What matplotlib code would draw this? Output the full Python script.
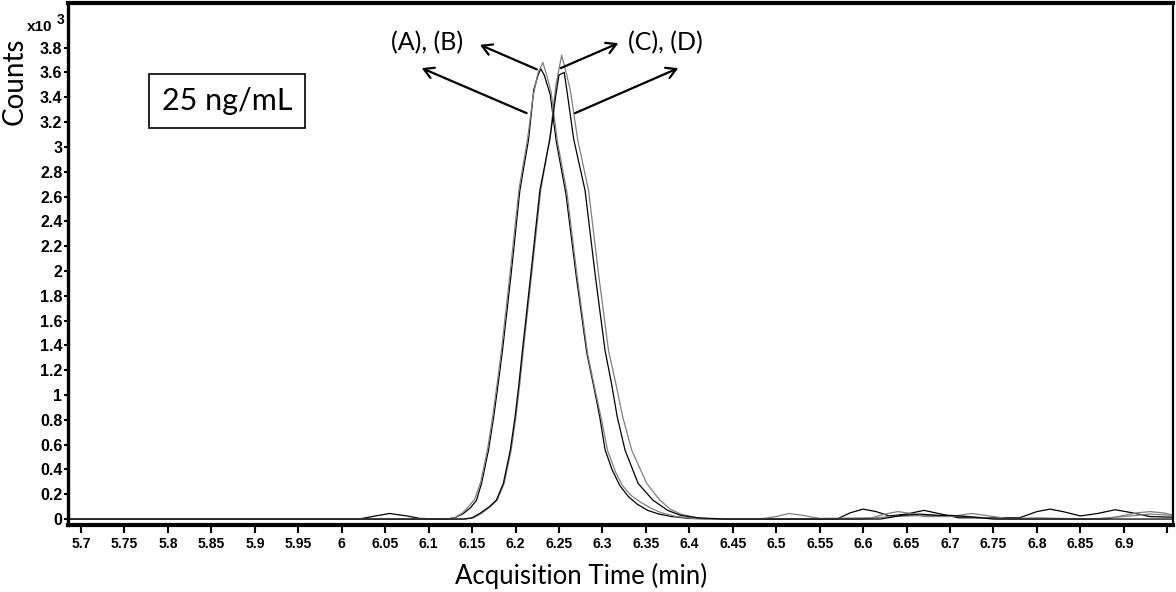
import matplotlib
matplotlib.use("Agg")
import matplotlib.pyplot as plt

# ---- data (counts in thousands) ----
t_A = [5.685, 6.02, 6.035, 6.055, 6.075, 6.09, 6.12, 6.13, 6.14, 6.148, 6.155, 6.161, 6.169,
       6.175, 6.180, 6.185, 6.195, 6.205, 6.215, 6.221, 6.226, 6.229, 6.233, 6.240, 6.247,
       6.258, 6.270, 6.282, 6.290, 6.297, 6.303, 6.311, 6.320, 6.330, 6.340, 6.352, 6.365,
       6.38, 6.40, 6.43, 6.57, 6.585, 6.60, 6.615, 6.63, 6.65, 6.67, 6.69, 6.71, 6.78,
       6.80, 6.815, 6.83, 6.85, 6.87, 6.89, 6.91, 6.93, 6.955]
v_A = [0, 0, 0.02, 0.045, 0.025, 0.005, 0, 0.01, 0.045, 0.09, 0.15, 0.29, 0.56,
       0.83, 1.09, 1.36, 1.98, 2.65, 3.06, 3.46, 3.58, 3.63, 3.58, 3.42, 3.04,
       2.62, 1.95, 1.34, 1.07, 0.82, 0.56, 0.40, 0.27, 0.18, 0.12, 0.07, 0.04,
       0.02, 0.005, 0, 0, 0.05, 0.08, 0.06, 0.025, 0.04, 0.07, 0.04, 0.01, 0.01,
       0.06, 0.08, 0.06, 0.025, 0.045, 0.075, 0.05, 0.02, 0.015]

t_B = [5.685, 6.12, 6.13, 6.139, 6.146, 6.153, 6.160, 6.168, 6.174, 6.179, 6.184, 6.194,
       6.204, 6.214, 6.220, 6.226, 6.2315, 6.235, 6.241, 6.248, 6.259, 6.271, 6.283, 6.291,
       6.299, 6.306, 6.315, 6.323, 6.333, 6.343, 6.355, 6.368, 6.385, 6.405, 6.44, 6.48,
       6.50, 6.515, 6.53, 6.55, 6.61, 6.625, 6.64, 6.655, 6.67, 6.70, 6.725, 6.75, 6.77,
       6.88, 6.90, 6.915, 6.93, 6.945, 6.955]
v_B = [0, 0, 0.01, 0.05, 0.10, 0.16, 0.30, 0.57, 0.84, 1.10, 1.37, 2.0,
       2.66, 3.07, 3.40, 3.60, 3.68, 3.60, 3.44, 3.05, 2.64, 1.95, 1.33, 1.06,
       0.80, 0.55, 0.38, 0.27, 0.19, 0.14, 0.09, 0.05, 0.02, 0.005, 0, 0,
       0.02, 0.045, 0.03, 0.005, 0.01, 0.04, 0.06, 0.045, 0.02, 0.02, 0.045, 0.02, 0.0,
       0.0, 0.03, 0.05, 0.06, 0.05, 0.035]

t_C = [5.685, 6.143, 6.152, 6.161, 6.171, 6.179, 6.187, 6.195, 6.2005, 6.205, 6.209,
       6.219, 6.229, 6.240, 6.2465, 6.2531, 6.2575, 6.263, 6.2715, 6.284, 6.296, 6.307,
       6.3155, 6.3233, 6.3337, 6.3509, 6.366, 6.378, 6.39, 6.405, 6.42, 6.60, 6.63, 6.68,
       6.72, 6.76, 6.80, 6.86, 6.90, 6.93, 6.955]
v_C = [0, 0, 0.01, 0.046, 0.10, 0.153, 0.288, 0.556, 0.825, 1.094, 1.363,
       2.0, 2.65, 3.10, 3.50, 3.74, 3.62, 3.46, 3.06, 2.65, 1.95, 1.36,
       1.09, 0.825, 0.556, 0.288, 0.153, 0.08, 0.04, 0.015, 0, 0, 0.02, 0.03,
       0.02, 0.0, 0.01, 0.0, 0.02, 0.04, 0.03]

t_D = [5.685, 6.14, 6.15, 6.159, 6.170, 6.178, 6.186, 6.194, 6.1995, 6.204, 6.208,
       6.218, 6.228, 6.2395, 6.246, 6.250, 6.256, 6.259, 6.267, 6.280, 6.292, 6.303,
       6.3105, 6.317, 6.326, 6.341, 6.358, 6.375, 6.39, 6.41, 6.44, 6.62, 6.645, 6.665,
       6.685, 6.70, 6.72, 6.75, 6.955]
v_D = [0, 0, 0.01, 0.046, 0.10, 0.153, 0.288, 0.556, 0.825, 1.094, 1.363,
       2.0, 2.65, 3.06, 3.40, 3.58, 3.60, 3.46, 3.06, 2.65, 1.95, 1.36,
       1.09, 0.825, 0.556, 0.288, 0.153, 0.07, 0.03, 0.01, 0, 0, 0.03, 0.04,
       0.03, 0.03, 0.02, 0.0, 0.0]

x_ticks = [5.7, 5.75, 5.8, 5.85, 5.9, 5.95, 6.0, 6.05, 6.1, 6.15, 6.2, 6.25, 6.3, 6.35,
           6.4, 6.45, 6.5, 6.55, 6.6, 6.65, 6.7, 6.75, 6.8, 6.85, 6.9, 6.95]
x_labels = ["5.7", "5.75", "5.8", "5.85", "5.9", "5.95", "6", "6.05", "6.1", "6.15", "6.2",
            "6.25", "6.3", "6.35", "6.4", "6.45", "6.5", "6.55", "6.6", "6.65", "6.7",
            "6.75", "6.8", "6.85", "6.9", ""]
y_ticks = [0, 0.2, 0.4, 0.6, 0.8, 1, 1.2, 1.4, 1.6, 1.8, 2, 2.2, 2.4, 2.6, 2.8, 3,
           3.2, 3.4, 3.6, 3.8]
y_labels = ["0", "0.2", "0.4", "0.6", "0.8", "1", "1.2", "1.4", "1.6", "1.8", "2", "2.2",
            "2.4", "2.6", "2.8", "3", "3.2", "3.4", "3.6", "3.8"]

GRAY = "#7f7f7f"

fig = plt.figure(figsize=(11.76, 5.92), dpi=100)
ax = fig.add_axes([68 / 1176, 1 - 525 / 592, (1173 - 68) / 1176, (525 - 3) / 592])

ax.plot(t_A, v_A, color="black", lw=0.9)
ax.plot(t_B, v_B, color=GRAY, lw=0.9)
ax.plot(t_C, v_C, color=GRAY, lw=0.9)
ax.plot(t_D, v_D, color="black", lw=0.9)

ax.set_xlim(5.685, 6.9566)
ax.set_ylim(-0.048, 4.16)

ax.set_xticks(x_ticks)
ax.set_xticklabels(x_labels, fontfamily="Liberation Sans", fontweight="bold", fontsize=10)
ax.set_yticks(y_ticks)
ax.set_yticklabels(y_labels, fontfamily="Liberation Sans", fontweight="bold", fontsize=11.5)
ax.tick_params(axis="x", direction="out", length=6, width=1.5, pad=3)
ax.tick_params(axis="y", direction="out", length=3, width=1.5, pad=1)

ax.spines["left"].set_linewidth(2.4)
ax.spines["bottom"].set_linewidth(3.0)
ax.spines["top"].set_linewidth(3.0)
ax.spines["right"].set_linewidth(1.6)

fig.text(581 / 1176, 1 - 576 / 592, "Acquisition Time (min)", ha="center", va="center",
         fontfamily="Lato", fontsize=18.5)
fig.text(15 / 1176, 1 - 81 / 592, "Counts", rotation=90, ha="center", va="center",
         fontfamily="Lato", fontsize=20)
fig.text(27 / 1176, 1 - 27 / 592, "x10", ha="left", va="center",
         fontfamily="Liberation Sans", fontweight="bold", fontsize=11)
fig.text(57 / 1176, 1 - 20 / 592, "3", ha="left", va="center",
         fontfamily="Liberation Sans", fontweight="bold", fontsize=10)

# concentration box
ax.text(5.7 + (227 - 81) / 869, (519 - 101) / 124, "25 ng/mL",
        ha="center", va="center", fontfamily="Lato", fontsize=22,
        bbox=dict(boxstyle="square,pad=0.42", fc="white", ec="black", lw=1.2))

# annotations
arrow_kw = dict(arrowstyle="->,head_length=0.7,head_width=0.4", color="black", lw=1.6,
                shrinkA=0, shrinkB=0)
ax.text(6.0977, 3.839, "(A), (B)", ha="center", va="center", fontfamily="Lato", fontsize=18)
ax.text(6.373, 3.839, "(C), (D)", ha="center", va="center", fontfamily="Lato", fontsize=18)
ax.annotate("", xy=(6.092, 3.635), xytext=(6.2128, 3.272), arrowprops=arrow_kw)
ax.annotate("", xy=(6.159, 3.823), xytext=(6.2244, 3.625), arrowprops=arrow_kw)
ax.annotate("", xy=(6.3183, 3.836), xytext=(6.252, 3.635), arrowprops=arrow_kw)
ax.annotate("", xy=(6.3873, 3.635), xytext=(6.2685, 3.272), arrowprops=arrow_kw)

fig.savefig("out.png", dpi=100)
